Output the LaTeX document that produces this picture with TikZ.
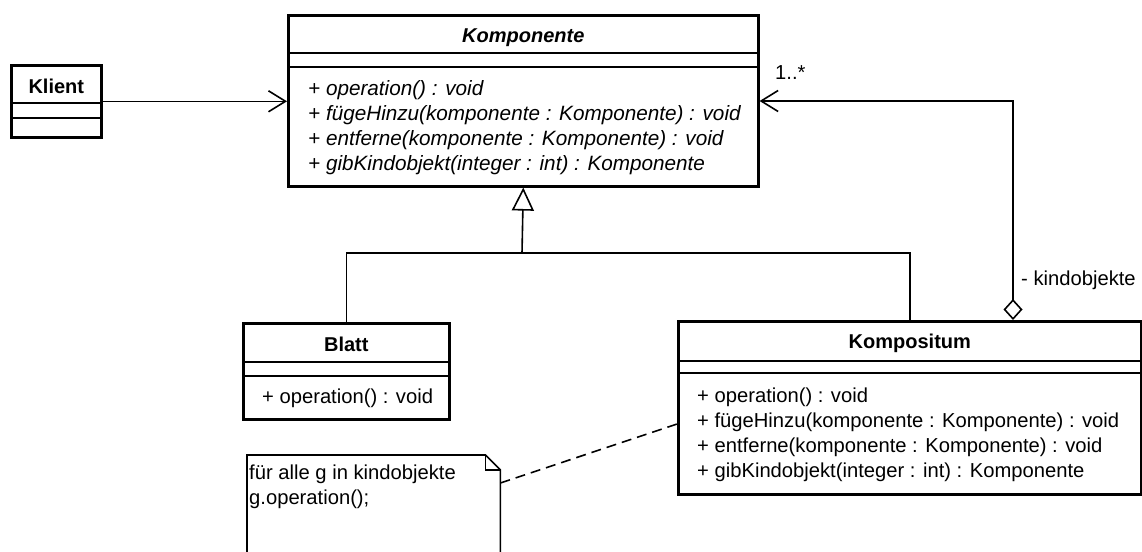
\documentclass[tikz,border=0pt]{standalone}
\usepackage{fontspec}
\setmainfont{Liberation Sans}
\usetikzlibrary{arrows.meta}
\begin{document}
\begin{tikzpicture}[x=1pt,y=-1pt,
  cls/.style={draw, line width=2.6pt, fill=white, inner sep=0pt, anchor=north west},
  sep/.style={line width=1.6pt},
  txt/.style={anchor=base west, inner sep=0pt, font=\fontsize{20.2}{25}\selectfont},
  ittxt/.style={txt, font=\fontsize{20.7}{25}\selectfont\itshape},
  ttl/.style={anchor=base, inner sep=0pt, font=\fontsize{20}{25}\selectfont\bfseries},
  conn/.style={line width=1.6pt},
  barb/.style={-{Straight Barb[length=17pt,width=21pt]}},
]
\useasboundingbox[fill=white] (0,0) rectangle (1142,551);

% --- class boxes ---
\node[cls, minimum width=470pt, minimum height=171pt] (komp) at (287,14) {};
\node[cls, minimum width=90pt,  minimum height=72pt]  (klient) at (10,64) {};
\node[cls, minimum width=206pt, minimum height=96pt]  (blatt) at (242,322) {};
\node[cls, minimum width=463pt, minimum height=173pt] (kompos) at (677,320) {};

% compartments
\draw[sep] (komp.west |- 0,53) -- (komp.east |- 0,53);
\draw[sep] (komp.west |- 0,67) -- (komp.east |- 0,67);
\draw[sep] (klient.west |- 0,103) -- (klient.east |- 0,103);
\draw[sep] (klient.west |- 0,118) -- (klient.east |- 0,118);
\draw[sep] (blatt.west |- 0,362) -- (blatt.east |- 0,362);
\draw[sep] (blatt.west |- 0,376) -- (blatt.east |- 0,376);
\draw[sep] (kompos.west |- 0,361) -- (kompos.east |- 0,361);
\draw[sep] (kompos.west |- 0,373) -- (kompos.east |- 0,373);

% titles
\node[ttl, font=\fontsize{20}{25}\selectfont\bfseries\itshape] (kompT) at (komp.north |- 0,42) {Komponente};
\node[ttl] (klientT) at (klient.north |- 0,93) {Klient};
\node[ttl] (blattT) at (blatt.north |- 0,351) {Blatt};
\node[ttl] (komposT) at (kompos.north |- 0,348) {Kompositum};

% operations of the abstract component
\node[ittxt] (k1) at (308,95)  {+ operation() : void};
\node[ittxt] (k2) at (308,120) {+ fügeHinzu(komponente : Komponente) : void};
\node[ittxt] (k3) at (308,145) {+ entferne(komponente : Komponente) : void};
\node[ittxt] (k4) at (308,170) {+ gibKindobjekt(integer : int) : Komponente};

% leaf
\node[txt] (b1) at (262,403) {+ operation() : void};

% composite
\node[txt] (c1) at (697,402) {+ operation() : void};
\node[txt] (c2) at (697,427) {+ fügeHinzu(komponente : Komponente) : void};
\node[txt] (c3) at (697,452) {+ entferne(komponente : Komponente) : void};
\node[txt] (c4) at (697,477) {+ gibKindobjekt(integer : int) : Komponente};

% note
\node[inner sep=0pt, minimum width=253pt, minimum height=105pt, anchor=north west] (note) at (247,455) {};
\draw[line width=1.6pt, fill=white] (note.north west) -- ([xshift=-15pt]note.north east)
  -- ([yshift=-15pt]note.north east) -- (note.south east) -- (note.south west) -- cycle;
\draw[line width=1.6pt] ([xshift=-15pt]note.north east) -- ([xshift=-15pt,yshift=-15pt]note.north east)
  -- ([yshift=-15pt]note.north east);
\node[txt] (n1) at (249,479) {für alle g in kindobjekte};
\node[txt] (n2) at (249,504) {g.operation();};

% --- connectors ---
\coordinate (aggx) at (1013,0);
\coordinate (assocy) at (0,101);
\coordinate (jn) at (522,253);

% client uses component
\draw[conn, barb] (klient.east) -- (komp.west |- klient.east);

% generalisation
\draw[conn] (blatt.north) |- (jn) -| (kompos.north);
\draw[conn, -{Triangle[open, length=23pt, width=22pt]}] (jn) -- (komp.south);

% aggregation of children
\draw[conn, {Diamond[open, length=21pt, width=19pt]}-{Straight Barb[length=17pt,width=21pt]}]
  (kompos.north -| aggx) |- (komp.east |- assocy);
\node[txt] (mult) at (775,79) {1..*};
\node[txt] (role) at (1021,285) {- kindobjekte};

% note anchor
\draw[conn, dash pattern=on 10pt off 6pt] (note.east |- 0,483) -- (kompos.west |- 0,424);
\end{tikzpicture}
\end{document}
